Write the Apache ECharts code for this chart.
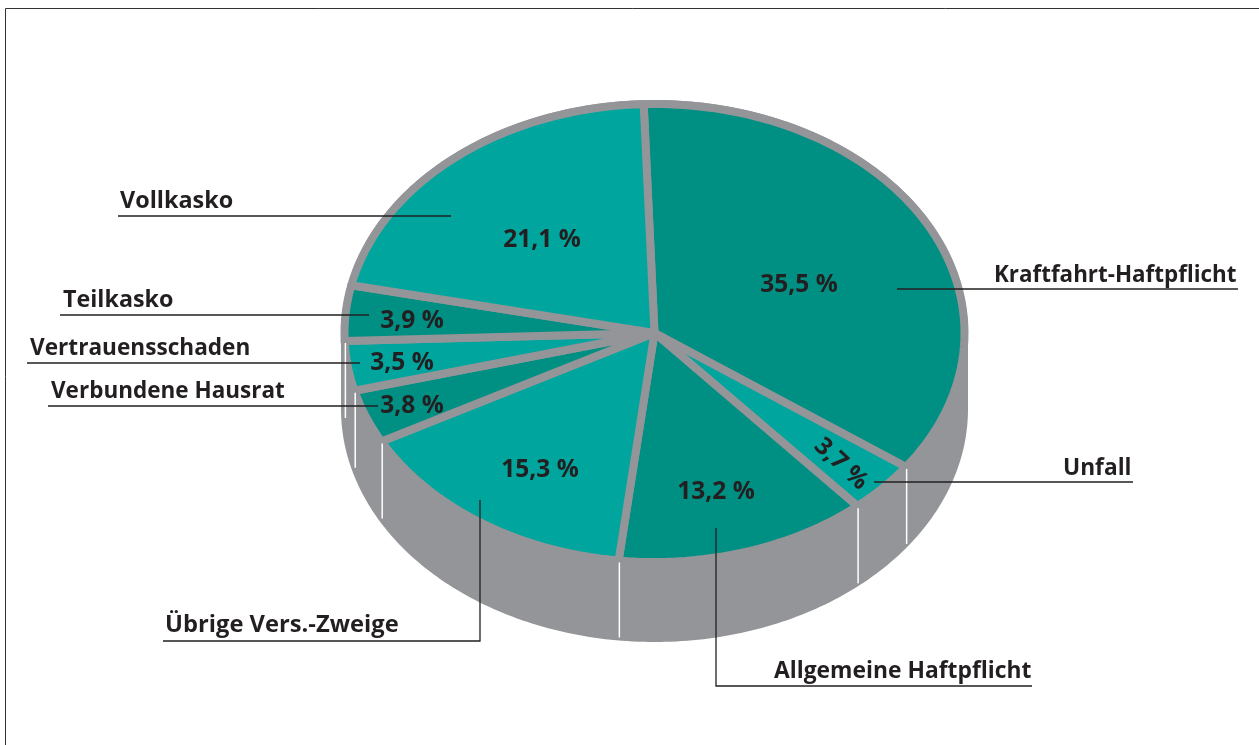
<!DOCTYPE html>
<html><head><meta charset="utf-8">
<style>html,body{margin:0;padding:0;background:#fff}#c{width:1259px;height:745px}</style>
<script src="https://cdn.jsdelivr.net/npm/echarts@6/dist/echarts.min.js"></script>
</head><body><div id="c"></div>
<script>
const categories = ['Kraftfahrt-Haftpflicht','Unfall','Allgemeine Haftpflicht','Übrige Vers.-Zweige','Verbundene Hausrat','Vertrauensschaden','Teilkasko','Vollkasko'];
const shares = [35.5,3.7,13.2,15.3,3.8,3.5,3.9,21.1];
const sliceTones = ['#008f83','#00a59d'];
const edgeMarks = [0,1,2,3,4,5];

const GRAY='#939598', INK='#231f20', FONT='"Open Sans","Noto Sans",sans-serif';
const CX=654.5, CY=333, RX=310, SQUASH=229/310, DEPTH=76;
const total = shares.reduce((a,b)=>a+b,0);
let run=0;
const ranges = shares.map(v=>{const r=[run,run+v];run+=v;return r;});
const squash = p=>[p[0], CY+(p[1]-CY)*SQUASH];

function bodyItem(params, api){
  const top=[], bot=[];
  for(let i=0;i<=180;i++){
    const t=Math.PI*i/180;
    top.push([654.5+313.5*Math.cos(t), 333-233*Math.sin(t)]);
    bot.push([654.5+313.5*Math.cos(t), 409+233*Math.sin(t)]);
  }
  return {type:'polygon',shape:{points:top.concat(bot.reverse())},style:{fill:GRAY,lineWidth:0}};
}
function sliceItem(params, api){
  const a=api.value(0), b=api.value(1), pts=[squash(api.coord([0,a]))];
  const n=Math.max(6,Math.ceil((b-a)*2));
  for(let i=0;i<=n;i++) pts.push(squash(api.coord([1,a+(b-a)*i/n])));
  return {type:'polygon',shape:{points:pts},style:{fill:sliceTones[api.value(2)%2],stroke:GRAY,lineWidth:8,lineJoin:'round'}};
}
function markItem(params, api){
  const p=squash(api.coord([1,api.value(0)]));
  return {type:'line',shape:{x1:p[0]+0.7,y1:p[1]+2,x2:p[0]+0.7,y2:p[1]+2+DEPTH-1},style:{stroke:'#ffffff',lineWidth:1.5}};
}

const valueLabelPos=[[799,285],[841,464],[716,492],[540,470],[412,406],[402,363],[412,321],[542,240]];
const valueLabelRot=[0,-0.75,0,0,0,0,0,0];
const nameLabels=[[994,276],[1063,469],[774,672],[165,626],[51,392],[30,349],[63,301],[120,202]];
const nameFit=[1,1.015,1.02,1.06,1.005,1.01,1.04,1.045];
const leaders=[
 [[897,289],[1238,289]],
 [[874,482],[1133,482]],
 [[716,528],[716,686],[1032,686]],
 [[480,500],[480,641],[163,641]],
 [[378,406],[48,406]],
 [[360,363],[27,363]],
 [[369,315],[60,315]],
 [[451,216],[118,216]]
];
const graphic=[
 {type:'polyline',silent:true,z:5,shape:{points:[[1259,8.5],[5.5,8.5],[5.5,745]]},style:{fill:null,stroke:'#333',lineWidth:1}}
];
leaders.forEach(l=>graphic.push({type:'polyline',z:20,silent:true,shape:{points:l},style:{fill:null,stroke:INK,lineWidth:1.3}}));
categories.forEach((c,i)=>graphic.push({type:'text',z:21,silent:true,x:nameLabels[i][0],y:nameLabels[i][1],scaleX:nameFit[i],
  style:{text:c,fill:INK,font:'bold 22.4px '+FONT,textVerticalAlign:'middle',textBaseline:'middle',textAlign:'left'}}));
shares.forEach((v,i)=>graphic.push({type:'text',z:21,silent:true,x:valueLabelPos[i][0],y:valueLabelPos[i][1],rotation:valueLabelRot[i],
  style:{text:v.toFixed(1).replace('.',',')+' %',fill:INK,font:'bold 24.5px '+FONT,textBaseline:'middle',textVerticalAlign:'middle',textAlign:'center'}}));

const chart=echarts.init(document.getElementById('c'),null,{renderer:'canvas'});
chart.setOption({
  animation:false,
  backgroundColor:'#fff',
  polar:{center:[CX,CY],radius:RX},
  angleAxis:{type:'value',min:0,max:total,startAngle:92,clockwise:true,show:false},
  radiusAxis:{type:'value',min:0,max:1,show:false},
  graphic:graphic,
  series:[
    {type:'custom',coordinateSystem:'polar',renderItem:bodyItem,data:[[0,0]],silent:true,z:1},
    {type:'custom',coordinateSystem:'polar',renderItem:sliceItem,data:ranges.map((r,i)=>[r[0],r[1],i]),silent:true,z:2},
    {type:'custom',coordinateSystem:'polar',renderItem:markItem,data:edgeMarks.map(i=>[ranges[i][1]]),silent:true,z:3}
  ]
});
</script></body></html>
